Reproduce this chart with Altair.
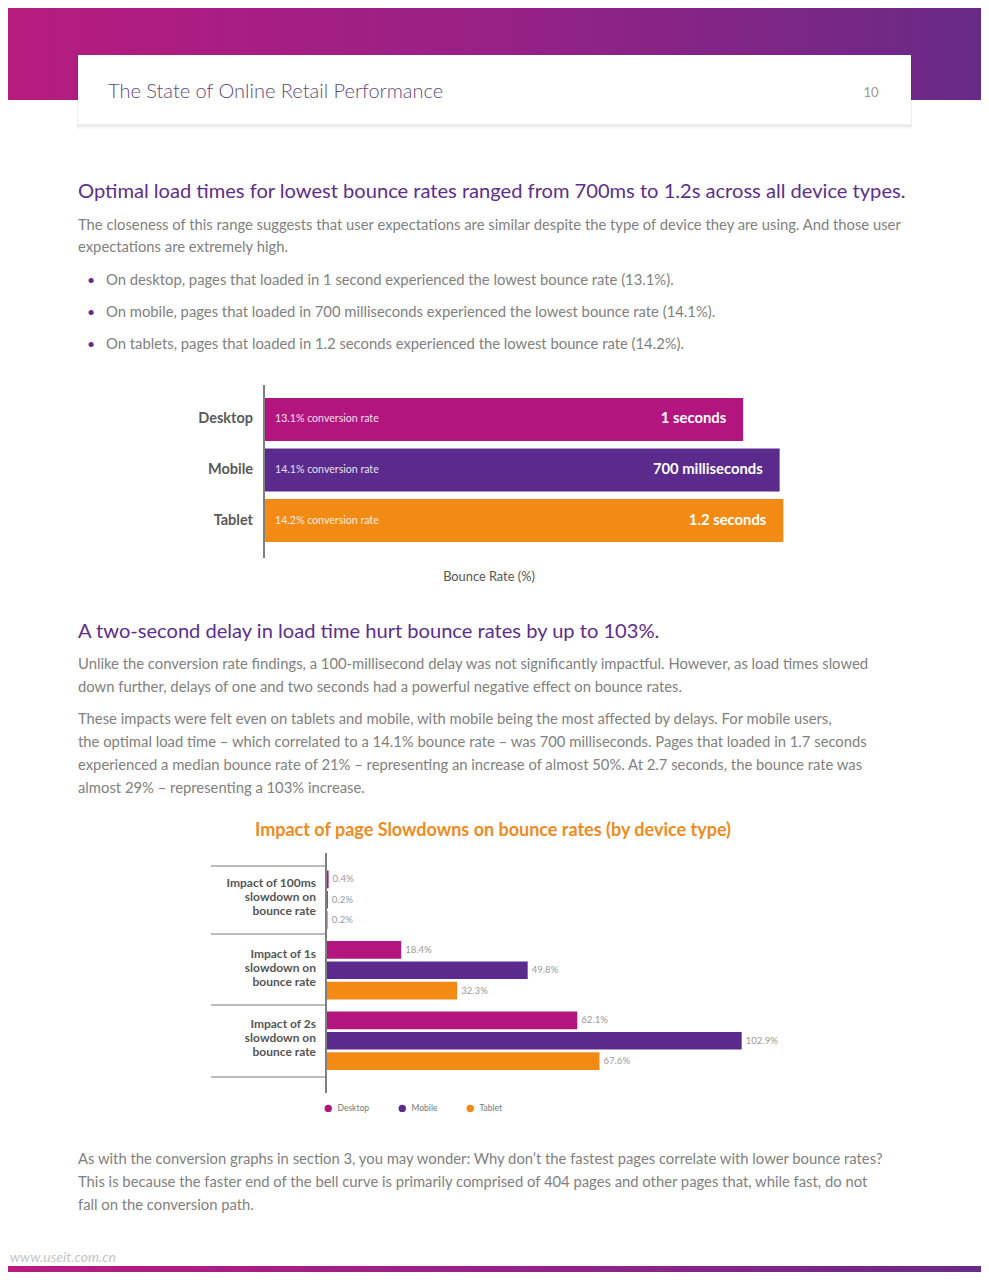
import altair as alt
import pandas as pd

# ---------------- data ----------------
devices = ["Desktop", "Mobile", "Tablet"]
device_colors = ["#B3157F", "#5A2A8D", "#F38A14"]

# chart 1: lowest bounce rate per device and the load time it occurred at
lowest_bounce = [13.1, 14.1, 14.2]
optimal_load = ["1 seconds", "700 milliseconds", "1.2 seconds"]

# chart 2: impact of slowdowns on bounce rates (%)
slowdowns = ["100ms", "1s", "2s"]
slowdown_labels = [
    ["Impact of 100ms", "slowdown on", "bounce rate"],
    ["Impact of 1s", "slowdown on", "bounce rate"],
    ["Impact of 2s", "slowdown on", "bounce rate"],
]
desktop_impact = [0.4, 18.4, 62.1]
mobile_impact = [0.2, 49.8, 102.9]
tablet_impact = [0.2, 32.3, 67.6]

# page text
header_title = "The State of Online Retail Performance"
page_number = "10"
heading1 = "Optimal load times for lowest bounce rates ranged from 700ms to 1.2s across all device types."
para1 = [
    "The closeness of this range suggests that user expectations are similar despite the type of device they are using. And those user",
    "expectations are extremely high.",
]
bullets = [
    "On desktop, pages that loaded in 1 second experienced the lowest bounce rate (13.1%).",
    "On mobile, pages that loaded in 700 milliseconds experienced the lowest bounce rate (14.1%).",
    "On tablets, pages that loaded in 1.2 seconds experienced the lowest bounce rate (14.2%).",
]
heading2 = "A two-second delay in load time hurt bounce rates by up to 103%."
para2 = [
    "Unlike the conversion rate findings, a 100-millisecond delay was not significantly impactful. However, as load times slowed",
    "down further, delays of one and two seconds had a powerful negative effect on bounce rates.",
]
para3 = [
    "These impacts were felt even on tablets and mobile, with mobile being the most affected by delays. For mobile users,",
    "the optimal load time \u2013 which correlated to a 14.1% bounce rate \u2013 was 700 milliseconds. Pages that loaded in 1.7 seconds",
    "experienced a median bounce rate of 21% \u2013 representing an increase of almost 50%. At 2.7 seconds, the bounce rate was",
    "almost 29% \u2013 representing a 103% increase.",
]
chart2_title = "Impact of page Slowdowns on bounce rates (by device type)"
chart1_xtitle = "Bounce Rate (%)"
para4 = [
    "As with the conversion graphs in section 3, you may wonder: Why don\u2019t the fastest pages correlate with lower bounce rates?",
    "This is because the faster end of the bell curve is primarily comprised of 404 pages and other pages that, while fast, do not",
    "fall on the conversion path.",
]
watermark = "www.useit.com.cn"

# ---------------- tables ----------------
df1 = pd.DataFrame({"device": devices, "bounce": lowest_bounce, "load": optimal_load})
df1["conv"] = [f"{v}% conversion rate" for v in lowest_bounce]

rows = []
for i, s in enumerate(slowdowns):
    for d, vals in zip(devices, [desktop_impact, mobile_impact, tablet_impact]):
        rows.append({"slowdown": s, "device": d, "impact": vals[i], "label": f"{vals[i]}%"})
df2 = pd.DataFrame(rows)
df2_cat = pd.DataFrame({"slowdown": slowdowns, "label": ["\n".join(l) for l in slowdown_labels]})

# ---------------- helpers ----------------
W, H = 973, 1264
FONT = "Lato"
BODY = "#808080"
BODY_SIZE = 14.8
PURPLE = "#5C2D8F"


def X(px):
    return px - 8


def Y(py):
    return py - 8


one = alt.Data(values=[{"k": 1}])


def text(t, x, y, size, color, weight="normal", align="left", **kw):
    return alt.Chart(one).mark_text(
        text=t, fontSize=size, color=color, fontWeight=weight, align=align,
        baseline="middle", font=FONT, **kw
    ).encode(x=alt.value(X(x)), y=alt.value(Y(y) + 1.5))


def para(lines, x, y_first, size=BODY_SIZE, lh=22.5, color=BODY):
    return alt.Chart(one).mark_text(
        text=lines, fontSize=size, color=color, align="left", baseline="top",
        font=FONT, lineHeight=lh
    ).encode(x=alt.value(X(x)), y=alt.value(Y(y_first) - 0.46 * size + 1.2))


def rect(x1, x2, y1, y2, **kw):
    return alt.Chart(one).mark_rect(**kw).encode(
        x=alt.value(x1), x2=alt.value(x2), y=alt.value(y1), y2=alt.value(y2)
    )


def rule(x1, x2, y1, y2, color="#555", width=1.0):
    return alt.Chart(one).mark_rule(color=color, strokeWidth=width).encode(
        x=alt.value(X(x1)), x2=alt.value(X(x2)), y=alt.value(Y(y1)), y2=alt.value(Y(y2))
    )


grad = alt.LinearGradient(
    gradient="linear",
    stops=[
        alt.GradientStop(color="#B71B80", offset=0),
        alt.GradientStop(color="#982185", offset=0.5),
        alt.GradientStop(color="#692A88", offset=1),
    ],
    x1=0, x2=1, y1=0, y2=0,
)

layers = []

# ---------------- header ----------------
layers.append(rect(0, W, 0, Y(100), fill=grad))
layers.append(rect(X(77), X(912), Y(56), Y(129), fill="#000000", opacity=0.03))
layers.append(rect(X(77), X(912), Y(55), Y(127), fill="#000000", opacity=0.04))
layers.append(rect(X(78), X(911), Y(55), Y(124), fill="#FFFFFF"))
layers.append(text(header_title, 108, 90, 20, "#5D4A80", weight=300))
layers.append(text(page_number, 871, 91, 13, "#999999", align="center"))

# ---------------- section 1 text ----------------
layers.append(text(heading1, 78, 190, 20.1, PURPLE))
layers.append(para(para1, 78, 224, lh=22))
for i, b in enumerate(bullets):
    yy = 279 + 32 * i
    layers.append(text("\u2022", 91, yy, 14, PURPLE, align="center"))
    layers.append(text(b, 106, yy, BODY_SIZE, BODY))

# ---------------- chart 1 ----------------
x1 = alt.X("bounce:Q", axis=None,
           scale=alt.Scale(domain=[0, 15], range=[X(265), X(265) + 15 * 36.5], nice=False, zero=True))
y1 = alt.Y("device:N", axis=None, sort=devices,
           scale=alt.Scale(domain=devices, range=[Y(398), Y(542)], paddingInner=0.15, paddingOuter=0))
base1 = alt.Chart(df1)
bars1 = base1.mark_bar().encode(
    x=x1, y=y1,
    color=alt.Color("device:N", scale=alt.Scale(domain=devices, range=device_colors), legend=None),
)
dev_lbl = base1.mark_text(align="right", baseline="middle", font=FONT, fontSize=14.5,
                          fontWeight="bold", color="#595959").encode(
    x=alt.value(X(253)), y=y1, text="device:N")
conv_lbl = base1.mark_text(align="left", baseline="middle", font=FONT, fontSize=10.6,
                           color="#FFFFFF", opacity=0.85).encode(
    x=alt.value(X(275)), y=y1, text="conv:N")
load_lbl = base1.mark_text(align="right", baseline="middle", font=FONT, fontSize=14.8,
                           fontWeight="bold", color="#FFFFFF", dx=-17).encode(
    x=x1, y=y1, text="load:N")
chart1 = alt.layer(bars1, dev_lbl, conv_lbl, load_lbl)
layers.append(chart1)
layers.append(rule(264, 264, 385, 558, color="#555555", width=1.5))
layers.append(text(chart1_xtitle, 489, 575, 12.8, "#555555", align="center"))

# ---------------- section 2 text ----------------
layers.append(text(heading2, 78, 630, 20.1, PURPLE))
layers.append(para(para2, 78, 663, lh=23))
layers.append(para(para3, 78, 718, lh=23))
layers.append(text(chart2_title, 493, 829, 18, "#F08A1D", weight="bold", align="center"))

# ---------------- chart 2 ----------------
x2 = alt.X("impact:Q", axis=None,
           scale=alt.Scale(domain=[0, 110], range=[X(327), X(327) + 110 * 4.03], nice=False, zero=True))
y2 = alt.Y("slowdown:N", axis=None, sort=slowdowns,
           scale=alt.Scale(domain=slowdowns, range=[Y(864.5), Y(1076)], paddingInner=0, paddingOuter=0))
yo2 = alt.YOffset("device:N", sort=devices,
                  scale=alt.Scale(domain=devices, paddingInner=0.14, paddingOuter=0.3))
base2 = alt.Chart(df2)
bars2 = base2.mark_bar().encode(
    x=x2, y=y2, yOffset=yo2,
    color=alt.Color(
        "device:N",
        scale=alt.Scale(domain=devices, range=device_colors),
        legend=alt.Legend(
            orient="none", legendX=X(324), legendY=Y(1104), direction="horizontal",
            title=None, symbolType="circle", symbolSize=55, symbolStrokeWidth=0,
            labelFontSize=8.5, labelColor="#777777", labelFont=FONT, labelOffset=5,
            columnPadding=28, padding=0,
        ),
    ),
)
val_lbl = base2.mark_text(align="left", baseline="middle", font=FONT, fontSize=9.6,
                          color="#9A9A9A", dx=4).encode(
    x=x2, y=y2, yOffset=yo2, text="label:N")
cat_lbl = alt.Chart(df2_cat).mark_text(
    align="right", baseline="top", font=FONT, fontSize=12, fontWeight="bold",
    color="#555555", lineBreak="\n", lineHeight=14, dy=-21.5,
).encode(x=alt.value(X(316)), y=y2, text="label:N")
chart2 = alt.layer(bars2, val_lbl, cat_lbl)
layers.append(chart2)
layers.append(rule(326, 326, 853, 1093, color="#555555", width=1.5))
for sy in [866, 934, 1005, 1077]:
    layers.append(rule(211, 326, sy, sy, color="#777777", width=1))

# ---------------- closing text & footer ----------------
layers.append(para(para4, 78, 1158, lh=23))
layers.append(text(watermark, 10, 1256, 14, "#C4C4C4", fontStyle="italic"))
layers.append(rect(0, W, H - 6, H, fill=grad))

chart = alt.layer(*layers).resolve_scale(
    x="independent", y="independent", color="independent"
).properties(
    width=W, height=H, padding=0, background="#FFFFFF",
    autosize=alt.AutoSizeParams(type="none"),
).configure_view(stroke=None)

chart.save("out.html", embed_options={"renderer": "svg", "actions": False})
